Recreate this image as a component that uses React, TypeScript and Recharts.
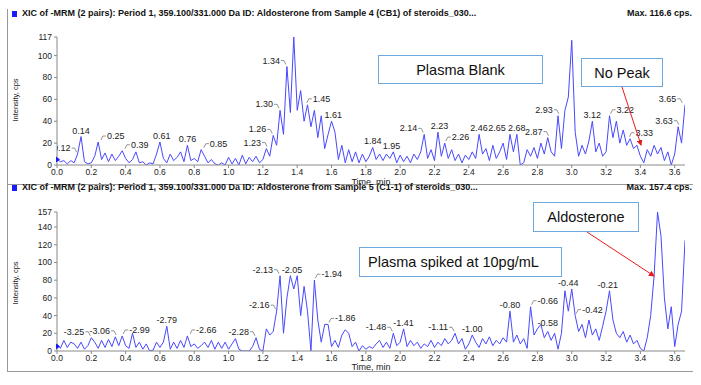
import React from 'react';
import {
  ComposedChart, Line, Scatter, XAxis, YAxis, ReferenceDot,
} from 'recharts';

// sampled every 0.02 min, 0.00 .. 3.66
const blankIntensity = [
  5, 3, 4, 1, 4, 2, 10, 26, 3, 1,
  2, 8, 21, 5, 11, 3, 10, 4, 8, 13,
  6, 2, 5, 12, 2, 3, 0, 2, 1, 10,
  21, 6, 2, 10, 4, 7, 12, 3, 18, 4,
  6, 3, 14, 8, 2, 5, 1, 0, 2, 0,
  7, 1, 6, 0, 9, 1, 7, 3, 8, 2,
  5, 15, 8, 27, 18, 50, 28, 90, 48, 117,
  50, 68, 40, 55, 35, 50, 25, 45, 15, 28,
  40, 30, 5, 18, 2, 14, 3, 12, 2, 10,
  3, 8, 16, 5, 10, 4, 10, 6, 12, 2,
  9, 3, 8, 2, 10, 5, 12, 28, 6, 14,
  4, 30, 8, 20, 6, 14, 4, 10, 2, 9,
  5, 12, 6, 28, 10, 15, 4, 18, 6, 12,
  20, 5, 28, 12, 28, 0, 2, 14, 8, 16,
  6, 20, 10, 25, 12, 8, 45, 15, 50, 62,
  114, 30, 8, 18, 10, 22, 40, 12, 20, 8,
  12, 45, 25, 40, 20, 32, 18, 24, 15, 18,
  8, 2, 14, 8, 18, 10, 16, 4, 12, 0,
  10, 35, 20, 55,
];

const spikedIntensity = [
  8, 3, 12, 4, 10, 8, 3, 10, 2, 6,
  15, 10, 3, 12, 4, 13, 5, 16, 6, 17,
  6, 3, 20, 4, 10, 2, 8, 0, 1, 10,
  4, 10, 28, 2, 10, 3, 12, 4, 17, 5,
  8, 3, 6, 10, 4, 12, 2, 10, 3, 10,
  2, 8, 14, 2, 0, 0, 0, 5, 15, 2,
  0, 25, 18, 22, 45, 85, 20, 60, 85, 70,
  85, 40, 73, 45, 0, 80, 35, 10, 30, 30,
  5, 12, 4, 18, 24, 20, 5, 10, 0, 6,
  2, 5, 3, 8, 12, 4, 10, 3, 20, 6,
  10, 25, 5, 12, 6, 10, 3, 8, 5, 12,
  4, 10, 6, 14, 8, 12, 20, 8, 14, 2,
  8, 18, 10, 4, 14, 8, 16, 6, 12, 8,
  15, 10, 45, 10, 18, 8, 14, 3, 50, 18,
  25, 30, 15, 22, 12, 20, 2, 20, 68, 45,
  70, 40, 22, 30, 15, 35, 18, 25, 12, 28,
  45, 68, 35, 20, 15, 22, 10, 18, 8, 12,
  3, 0, 15, 40, 85, 157, 130, 60, 25, 50,
  5, 30, 45, 125,
];

const blankPeakTimes = [0.12, 0.14, 0.25, 0.39, 0.61, 0.76, 0.85, 1.23, 1.26, 1.30, 1.34, 1.37, 1.45, 1.61, 1.84, 1.95,
  2.14, 2.23, 2.26, 2.46, 2.65, 2.68, 2.87, 2.93, 3.01, 3.12, 3.22, 3.33, 3.63, 3.65];
const blankPeakHeights = [10, 26, 21, 13, 21, 18, 14, 15, 27, 50, 90, 117, 55, 40, 16, 12,
  28, 30, 20, 28, 28, 28, 25, 45, 114, 40, 45, 24, 35, 55];
const blankPeakText = ['0.12', '0.14', '0.25', '0.39', '0.61', '0.76', '0.85', '1.23', '1.26', '1.30', '1.34', '1.37', '1.45', '1.61', '1.84', '1.95',
  '2.14', '2.23', '2.26', '2.46', '2.65', '2.68', '2.87', '2.93', '3.01', '3.12', '3.22', '3.33', '3.63', '3.65'];

const spikedPeakTimes = [0.20, 0.35, 0.38, 0.64, 0.77, 1.16, 1.28, 1.30, 1.37, 1.50, 1.58, 1.96, 2.02, 2.32, 2.42,
  2.64, 2.76, 2.86, 2.98, 3.02, 3.21, 3.50];
const spikedPeakHeights = [15, 16, 17, 28, 17, 15, 45, 85, 85, 80, 30, 20, 25, 20, 18,
  45, 50, 25, 70, 40, 68, 157];
const spikedPeakText = ['-3.25', '-3.06', '-2.99', '-2.79', '-2.66', '-2.28', '-2.16', '-2.13', '-2.05', '-1.94', '-1.86',
  '-1.48', '-1.41', '-1.11', '-1.00', '-0.80', '-0.66', '-0.58', '-0.44', '-0.42', '-0.21', '3.50'];

// where the tag sits relative to its peak
const blankTagSide = ['L', 'C', 'R', 'R', 'C', 'C', 'R', 'L', 'L', 'L', 'L', 'C', 'R', 'C', 'C', 'C',
  'L', 'C', 'R', 'C', 'l', 'C', 'L', 'L', 'C', 'C', 'R', 'R', 'L', 'L'];
const spikedTagSide = ['L', 'L', 'R', 'C', 'R', 'L', 'L', 'L', 'C', 'R', 'R', 'L', 'C', 'L', 'C',
  'C', 'R', 'C', 'C', 'R', 'C', 'C'];

const timeTicks = [0, 0.2, 0.4, 0.6, 0.8, 1.0, 1.2, 1.4, 1.6, 1.8, 2.0, 2.2, 2.4, 2.6, 2.8, 3.0, 3.2, 3.4, 3.6];
const blankTicks = [0, 20, 40, 60, 80, 100, 117];
const spikedTicks = [0, 20, 40, 60, 80, 100, 120, 140, 157];

const FONT = '"Liberation Sans", Arial, sans-serif';
const TRACE = '#4848ff';
const AXIS = '#8a8a8a';

const toRows = (vals: number[]) => vals.map((v, i) => ({ t: Math.round(i * 2) / 100, v }));
const toTags = (times: number[], heights: number[], text: string[], side: string[]) =>
  times.map((t, i) => ({ t, v: heights[i], text: text[i], side: side[i] }));

const PeakTag = (props: any) => {
  const { cx, cy, payload } = props;
  if (cx == null || cy == null) return null;
  const style = { fontSize: 9, fontFamily: FONT, fill: '#222' };
  if (payload.side === 'C') {
    return <text x={cx} y={cy - 3} textAnchor="middle" style={style}>{payload.text}</text>;
  }
  // lower-case 'l': tucked left without a leader
  if (payload.side === 'l') {
    return <text x={cx - 6} y={cy - 3} textAnchor="end" style={style}>{payload.text}</text>;
  }
  const s = payload.side === 'L' ? -1 : 1;
  return (
    <g>
      <polyline
        points={`${cx + s * 6},${cy - 6} ${cx + s * 3},${cy - 6} ${cx + s * 1},${cy - 2}`}
        stroke="#777" strokeWidth={0.8} fill="none"
      />
      <text x={cx + s * 7} y={cy - 3} textAnchor={s < 0 ? 'end' : 'start'} style={style}>{payload.text}</text>
    </g>
  );
};

const StartMark = (props: any) => {
  const { cx, cy } = props;
  return <polygon points={`${cx - 1},${cy - 3} ${cx + 3},${cy} ${cx - 1},${cy + 3}`} fill="#1a1aff" />;
};

function Trace({ rows, tags, yMax, yTicks, height, top, bottom }: any) {
  return (
    <ComposedChart width={701} height={height} data={rows}
      margin={{ top, right: 16, bottom, left: 27 }}>
      <XAxis type="number" dataKey="t" domain={[0, 3.66]} ticks={timeTicks} allowDataOverflow
        tickFormatter={(v: number) => v.toFixed(1)} height={12} tickSize={3} tickMargin={1}
        stroke={AXIS} tick={{ fill: '#222', fontSize: 8.5, fontFamily: FONT }} />
      <YAxis type="number" domain={[0, yMax]} ticks={yTicks} allowDataOverflow width={30}
        tickSize={3} tickMargin={2} stroke={AXIS} interval={0}
        tick={{ fill: '#222', fontSize: 8.5, fontFamily: FONT }} />
      <Line type="linear" dataKey="v" stroke={TRACE} strokeWidth={1} dot={false} isAnimationActive={false} />
      <Scatter data={tags} dataKey="v" shape={PeakTag} isAnimationActive={false} />
      <ReferenceDot x={0} y={5} r={0} shape={StartMark} ifOverflow="visible" />
    </ComposedChart>
  );
}

const boxStyle: React.CSSProperties = {
  position: 'absolute', background: '#fff', border: '1.5px solid #6fa8dc', boxSizing: 'border-box',
  display: 'flex', alignItems: 'center', justifyContent: 'center',
  fontFamily: FONT, fontSize: 14.5, color: '#111',
};

const titleStyle: React.CSSProperties = {
  position: 'absolute', fontFamily: FONT, fontWeight: 'bold', fontSize: 9, color: '#111', whiteSpace: 'nowrap',
};

const smallText: React.CSSProperties = {
  position: 'absolute', fontFamily: FONT, fontSize: 8.5, color: '#222', whiteSpace: 'nowrap',
};

export default function App() {
  const blankRows = toRows(blankIntensity);
  const spikedRows = toRows(spikedIntensity);
  const blankTags = toTags(blankPeakTimes, blankPeakHeights, blankPeakText, blankTagSide);
  const spikedTags = toTags(spikedPeakTimes, spikedPeakHeights, spikedPeakText, spikedTagSide);

  return (
    <div style={{ position: 'absolute', left: 0, top: 0, width: 701, height: 385, background: '#fff', overflow: 'hidden' }}>
      {/* upper panel: plasma blank */}
      <div style={{ position: 'absolute', left: 0, top: 0, width: 701, height: 184, overflow: 'hidden' }}>
        <div style={{ position: 'absolute', left: 7, top: 9, width: 0, height: 180, borderLeft: '1px solid #999' }} />
        <div style={{ position: 'absolute', left: 12, top: 11, width: 5, height: 6, background: '#1a1aff' }} />
        <div style={{ ...titleStyle, left: 22, top: 8 }}>
          XIC of -MRM (2 pairs): Period 1, 359.100/331.000 Da ID: Aldosterone from Sample 4 (CB1) of steroids_030...
        </div>
        <div style={{ ...titleStyle, right: 9, top: 8 }}>Max. 116.6 cps.</div>
        <div style={{ position: 'absolute', left: 0, top: 0 }}>
          <Trace rows={blankRows} tags={blankTags} yMax={117} yTicks={blankTicks} height={184} top={37} bottom={7} />
        </div>
        <div style={{ ...smallText, left: 15, top: 100, transform: 'translate(-50%, -50%) rotate(-90deg)', fontSize: 7.5 }}>
          Intensity, cps
        </div>
        <div style={{ ...smallText, left: 371, top: 177, transform: 'translateX(-50%)', fontSize: 9 }}>Time, min</div>
      </div>

      {/* lower panel: spiked plasma */}
      <div style={{ position: 'absolute', left: 7, top: 184, width: 686, height: 188, boxSizing: 'border-box',
        borderTop: '1px solid #999', borderLeft: '1px solid #999', borderBottom: '1px solid #999' }} />
      <div style={{ position: 'absolute', left: 12, top: 185, width: 5, height: 6, background: '#1a1aff' }} />
      <div style={{ ...titleStyle, left: 22, top: 182 }}>
        XIC of -MRM (2 pairs): Period 1, 359.100/331.000 Da ID: Aldosterone from Sample 5 (C1-1) of steroids_030...
      </div>
      <div style={{ ...titleStyle, right: 9, top: 182 }}>Max. 157.4 cps.</div>
      <div style={{ position: 'absolute', left: 0, top: 184 }}>
        <Trace rows={spikedRows} tags={spikedTags} yMax={157} yTicks={spikedTicks} height={188} top={28} bottom={9} />
      </div>
      <div style={{ ...smallText, left: 15, top: 283, transform: 'translate(-50%, -50%) rotate(-90deg)', fontSize: 7.5 }}>
        Intensity, cps
      </div>
      <div style={{ ...smallText, left: 371, top: 362, transform: 'translateX(-50%)', fontSize: 9 }}>Time, min</div>

      {/* annotations */}
      <div style={{ ...boxStyle, left: 378, top: 55, width: 165, height: 29 }}>Plasma Blank</div>
      <div style={{ ...boxStyle, left: 581, top: 58, width: 82, height: 29 }}>No Peak</div>
      <div style={{ ...boxStyle, left: 533, top: 202, width: 106, height: 30 }}>Aldosterone</div>
      <div style={{ ...boxStyle, left: 359, top: 247, width: 203, height: 30, justifyContent: 'flex-start', paddingLeft: 8 }}>
        Plasma spiked at 10pg/mL
      </div>
      <svg width={701} height={385} style={{ position: 'absolute', left: 0, top: 0, pointerEvents: 'none' }}>
        <defs>
          <marker id="redHead" markerWidth="6" markerHeight="6" refX="5" refY="3" orient="auto" markerUnits="userSpaceOnUse">
            <path d="M0,0 L6,3 L0,6 Z" fill="#e8191e" />
          </marker>
        </defs>
        <line x1={622} y1={87} x2={641} y2={145} stroke="#e8191e" strokeWidth={1} markerEnd="url(#redHead)" />
        <line x1={587} y1={232} x2={654} y2={276} stroke="#e8191e" strokeWidth={1} markerEnd="url(#redHead)" />
      </svg>
    </div>
  );
}
